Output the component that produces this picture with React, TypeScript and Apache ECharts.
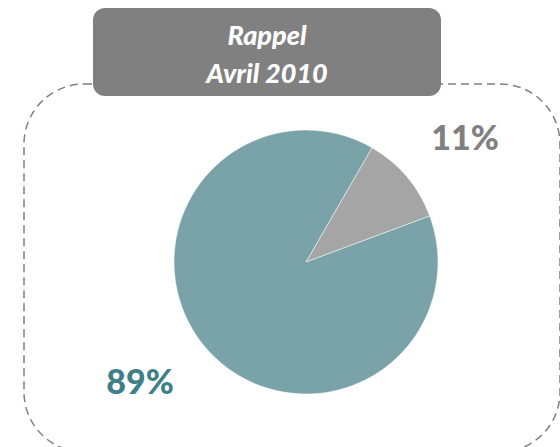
import React, { useEffect, useRef } from "react";
import * as echarts from "echarts";

const categories = ["Non", "Oui"];
const values = [11, 89];
const sliceColors = ["#a5a5a5", "#79a3a8"];
const labelColors = ["#808080", "#3f7f87"];
const titleLines = ["Rappel", "Avril 2010"];

export default function App() {
  const ref = useRef<HTMLDivElement>(null);
  useEffect(() => {
    if (!ref.current) return;
    const chart = echarts.init(ref.current, null, { renderer: "svg" });
    const labelPos = [
      { x: 465, y: 136 },
      { x: 140, y: 380 },
    ];
    chart.setOption({
      animation: false,
      backgroundColor: "#ffffff",
      graphic: [
        {
          type: "rect",
          z: 1,
          shape: { x: 24, y: 84, width: 536, height: 368, r: 60 },
          style: { fill: "none", stroke: "#7f7f7f", lineWidth: 1.5, lineDash: [8, 5] },
        },
        {
          type: "rect",
          z: 10,
          shape: { x: 93, y: 8, width: 348, height: 88, r: 12 },
          style: { fill: "#808080" },
        },
        {
          type: "text",
          z: 11,
          x: 267,
          y: 53,
          style: {
            text: titleLines.join("\n"),
            fill: "#ffffff",
            font: "italic 900 27px Lato",
            lineHeight: 38,
            align: "center",
            verticalAlign: "middle",
          },
        },
      ],
      series: [
        {
          type: "pie",
          center: [306, 262],
          radius: 132,
          startAngle: 60,
          clockwise: true,
          percentPrecision: 0,
          itemStyle: { borderColor: "#ffffff", borderWidth: 0.5 },
          labelLine: { show: false },
          label: {
            show: true,
            position: "outside",
            formatter: "{d}%",
            fontFamily: "Lato",
            fontWeight: 900,
            fontSize: 34,
          },
          labelLayout: (params: any) => ({
            x: labelPos[params.dataIndex].x,
            y: labelPos[params.dataIndex].y,
            align: "center",
            verticalAlign: "middle",
          }),
          emphasis: { disabled: true },
          data: categories.map((name, i) => ({
            name,
            value: values[i],
            itemStyle: { color: sliceColors[i] },
            label: { color: labelColors[i] },
          })),
        },
      ],
    });
    return () => chart.dispose();
  }, []);
  return (
    <div
      ref={ref}
      style={{ position: "absolute", left: 0, top: 0, width: 560, height: 447 }}
    />
  );
}
